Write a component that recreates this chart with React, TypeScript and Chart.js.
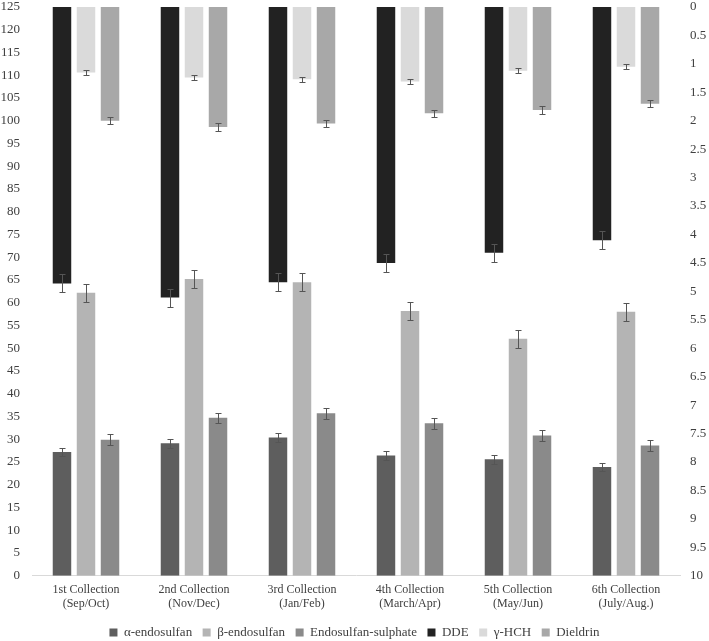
import React, { useEffect, useRef } from "react";
import { Chart, registerables } from "chart.js";

Chart.register(...registerables);

const categories: string[][] = [
  ["1st Collection", "(Sep/Oct)"],
  ["2nd Collection", "(Nov/Dec)"],
  ["3rd Collection", "(Jan/Feb)"],
  ["4th Collection", "(March/Apr)"],
  ["5th Collection", "(May/Jun)"],
  ["6th Collection", "(July/Aug.)"],
];

// left axis series (0-125)
const alphaEndo = [27.2, 29.1, 30.4, 26.4, 25.6, 23.9];
const alphaErr = [0.95, 0.95, 0.95, 0.95, 0.95, 0.95];
const betaEndo = [62.2, 65.2, 64.5, 58.2, 52.1, 58.0];
const betaErr = [2.0, 2.0, 2.0, 2.0, 2.0, 2.0];
const endoSulphate = [29.9, 34.7, 35.7, 33.5, 30.8, 28.6];
const sulphateErr = [1.15, 1.15, 1.15, 1.15, 1.15, 1.15];

// right axis series (reversed 0-10)
const dde = [4.86, 5.11, 4.84, 4.5, 4.32, 4.1];
const ddeErr = [0.16, 0.16, 0.16, 0.16, 0.16, 0.16];
const hch = [1.15, 1.24, 1.27, 1.31, 1.12, 1.05];
const hchErr = [0.045, 0.045, 0.045, 0.045, 0.045, 0.045];
const dieldrin = [2.0, 2.11, 2.05, 1.87, 1.81, 1.7];
const dieldrinErr = [0.065, 0.065, 0.065, 0.065, 0.065, 0.065];

const leftMax = 125;
const leftStep = 5;
const rightMax = 10;
const rightStep = 0.5;

const errorBarsPlugin = {
  id: "errorBars",
  afterDatasetsDraw(chart: any) {
    const ctx = chart.ctx;
    ctx.save();
    ctx.strokeStyle = "#555555";
    ctx.lineWidth = 1;
    chart.data.datasets.forEach((ds: any, di: number) => {
      const meta = chart.getDatasetMeta(di);
      if (!meta.visible || !ds.errors) return;
      const scale = chart.scales[meta.yAxisID];
      meta.data.forEach((bar: any, i: number) => {
        const v = ds.data[i];
        const e = ds.errors[i];
        const ya = Math.round(scale.getPixelForValue(v - e)) + 0.5;
        const yb = Math.round(scale.getPixelForValue(v + e)) + 0.5;
        const x = Math.round(bar.x) + 0.5;
        const cap = 3;
        ctx.beginPath();
        ctx.moveTo(x, ya);
        ctx.lineTo(x, yb);
        ctx.moveTo(x - cap, ya);
        ctx.lineTo(x + cap, ya);
        ctx.moveTo(x - cap, yb);
        ctx.lineTo(x + cap, yb);
        ctx.stroke();
      });
    });
    ctx.restore();
  },
};

export default function App() {
  const ref = useRef<HTMLCanvasElement | null>(null);

  useEffect(() => {
    if (!ref.current) return;
    const font = "'Liberation Serif', 'Times New Roman', serif";
    const textColor = "#404040";
    const common = {
      categoryPercentage: 0.667,
      barPercentage: 0.77,
      borderWidth: 0,
    };
    const fmt = (v: any) => String(Number((+v).toFixed(2)));
    const chart = new Chart(ref.current, {
      type: "bar",
      data: {
        labels: categories,
        datasets: [
          { label: "α-endosulfan", data: alphaEndo, errors: alphaErr, backgroundColor: "#5e5e5e", yAxisID: "y", stack: "a", ...common } as any,
          { label: "β-endosulfan", data: betaEndo, errors: betaErr, backgroundColor: "#b4b4b4", yAxisID: "y", stack: "b", ...common } as any,
          { label: "Endosulfan-sulphate", data: endoSulphate, errors: sulphateErr, backgroundColor: "#8a8a8a", yAxisID: "y", stack: "c", ...common } as any,
          { label: "DDE", data: dde, errors: ddeErr, backgroundColor: "#222222", yAxisID: "y2", stack: "a", ...common } as any,
          { label: "γ-HCH", data: hch, errors: hchErr, backgroundColor: "#dadada", yAxisID: "y2", stack: "b", ...common } as any,
          { label: "Dieldrin", data: dieldrin, errors: dieldrinErr, backgroundColor: "#a8a8a8", yAxisID: "y2", stack: "c", ...common } as any,
        ],
      },
      options: {
        responsive: false,
        animation: false,
        layout: { padding: { top: 0, bottom: -8, left: 0, right: 0 } },
        plugins: {
          tooltip: { enabled: false },
          legend: {
            position: "bottom",
            labels: {
              boxWidth: 8,
              boxHeight: 8,
              padding: 10.5,
              color: textColor,
              font: { family: font, size: 13 },
            },
          },
        },
        scales: {
          x: {
            grid: { display: false, drawTicks: false },
            border: { display: true, color: "#d9d9d9", width: 1 },
            ticks: { color: textColor, font: { family: font, size: 12 }, padding: 7, maxRotation: 0, autoSkip: false },
            afterFit: (s: any) => { s.height = s.height - 3; },
          },
          y: {
            position: "left",
            min: 0,
            max: leftMax,
            stacked: false,
            grid: { display: false, drawTicks: false },
            border: { display: false },
            ticks: { stepSize: leftStep, color: textColor, font: { family: font, size: 13 }, padding: 12, callback: fmt },
            afterFit: (s: any) => { s.width = 32; s.paddingTop = 7; s.paddingBottom = 0; },
          },
          y2: {
            position: "right",
            min: 0,
            max: rightMax,
            reverse: true,
            stacked: false,
            grid: { display: false, drawTicks: false },
            border: { display: false },
            ticks: { stepSize: rightStep, color: textColor, font: { family: font, size: 13 }, padding: 10, callback: fmt },
            afterFit: (s: any) => { s.width = 29; s.paddingTop = 7; s.paddingBottom = 0; },
          },
        },
      } as any,
      plugins: [errorBarsPlugin],
    });
    return () => chart.destroy();
  }, []);

  return (
    <div style={{ position: "fixed", left: 0, top: 0, width: 709, height: 641, background: "#fff" }}>
      <canvas ref={ref} width={709} height={641} style={{ display: "block" }} />
    </div>
  );
}
